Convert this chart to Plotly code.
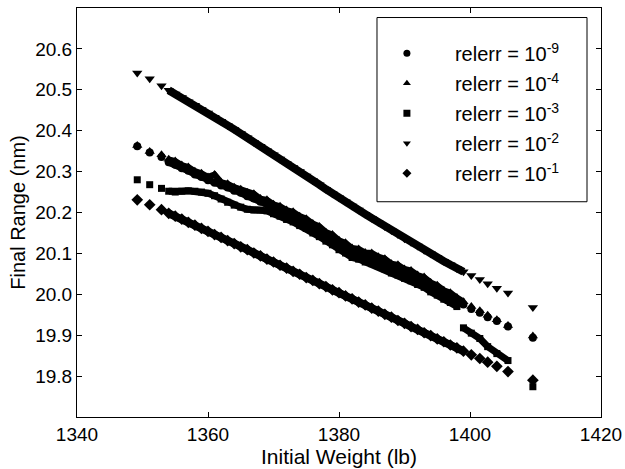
import plotly.graph_objects as go

# Initial weight grid (lb) shared by all series
weight = [1349.2, 1351.1, 1352.9,
          1354, 1355, 1356, 1357, 1358, 1359, 1360, 1361, 1362, 1363, 1364,
          1365, 1366, 1367, 1368, 1369, 1370, 1371, 1372, 1373, 1374, 1375,
          1376, 1377, 1378, 1379, 1380, 1381, 1382, 1383, 1384, 1385, 1386,
          1387, 1388, 1389, 1390, 1391, 1392, 1393, 1394, 1395, 1396, 1397,
          1398, 1399,
          1400.2, 1401.5, 1402.7, 1404.1, 1405.8, 1409.6]

range_e9 = [20.362, 20.347, 20.336,
            20.323, 20.317, 20.308, 20.302, 20.293, 20.287, 20.279, 20.273, 20.266, 20.261, 20.253,
            20.248, 20.240, 20.234, 20.226, 20.220, 20.211, 20.205, 20.197, 20.191, 20.182, 20.174,
            20.163, 20.155, 20.143, 20.135, 20.123, 20.115, 20.104, 20.100, 20.093, 20.090, 20.083,
            20.076, 20.066, 20.061, 20.053, 20.047, 20.038, 20.031, 20.020, 20.012, 20.001, 19.994,
            19.983, 19.975,
            19.964, 19.955, 19.944, 19.935, 19.921, 19.894]

range_e4 = [20.364, 20.349, 20.341,
            20.330, 20.326, 20.316, 20.311, 20.301, 20.296, 20.287, 20.293, 20.274, 20.270, 20.262,
            20.257, 20.249, 20.246, 20.234, 20.231, 20.220, 20.215, 20.206, 20.202, 20.191, 20.185,
            20.173, 20.166, 20.152, 20.146, 20.132, 20.126, 20.113, 20.111, 20.102, 20.101, 20.092,
            20.087, 20.075, 20.072, 20.062, 20.058, 20.047, 20.042, 20.029, 20.022, 20.010, 20.004,
            19.992, 19.982,
            19.970, 19.960, 19.949, 19.938, 19.924, 19.898]

range_e3 = [20.280, 20.268, 20.259,
            20.252, 20.250, 20.252, 20.253, 20.252, 20.250, 20.247, 20.241, 20.233, 20.225, 20.218,
            20.213, 20.208, 20.206, 20.206, 20.204, 20.197, 20.191, 20.183, 20.177, 20.168, 20.161,
            20.150, 20.141, 20.130, 20.121, 20.109, 20.101, 20.090, 20.086, 20.079, 20.075, 20.069,
            20.062, 20.052, 20.047, 20.039, 20.033, 20.024, 20.017, 20.006, 19.998, 19.988, 19.980,
            19.970, 19.918,
            19.905, 19.892, 19.872, 19.855, 19.838, 19.774]

range_e2 = [20.541, 20.527, 20.510,
            20.499, 20.490, 20.481, 20.471, 20.462, 20.452, 20.443, 20.433, 20.423, 20.413, 20.403,
            20.393, 20.383, 20.372, 20.362, 20.351, 20.341, 20.331, 20.320, 20.310, 20.300, 20.289,
            20.278, 20.268, 20.257, 20.246, 20.236, 20.226, 20.216, 20.206, 20.196, 20.186, 20.176,
            20.166, 20.156, 20.146, 20.136, 20.127, 20.118, 20.108, 20.099, 20.090, 20.081, 20.072,
            20.063, 20.055,
            20.046, 20.036, 20.026, 20.015, 20.003, 19.968]

range_e1 = [20.231, 20.219, 20.207,
            20.198, 20.191, 20.184, 20.176, 20.169, 20.161, 20.154, 20.146, 20.139, 20.131, 20.124,
            20.116, 20.109, 20.101, 20.094, 20.086, 20.079, 20.071, 20.064, 20.056, 20.049, 20.041,
            20.034, 20.026, 20.019, 20.011, 20.004, 19.996, 19.989, 19.981, 19.974, 19.966, 19.959,
            19.951, 19.944, 19.936, 19.929, 19.921, 19.914, 19.906, 19.899, 19.891, 19.884, 19.876,
            19.869, 19.861,
            19.852, 19.843, 19.834, 19.824, 19.811, 19.790]

legend_labels = ["relerr = 10<sup>-9</sup>", "relerr = 10<sup>-4</sup>",
                 "relerr = 10<sup>-3</sup>", "relerr = 10<sup>-2</sup>",
                 "relerr = 10<sup>-1</sup>"]

x_ticks = [1340, 1360, 1380, 1400, 1420]
y_ticks = [19.8, 19.9, 20.0, 20.1, 20.2, 20.3, 20.4, 20.5, 20.6]

series = [range_e9, range_e4, range_e3, range_e2, range_e1]
symbols = ["circle", "triangle-up", "square", "triangle-down", "diamond"]
msizes = [8, 9, 7, 9, 9]
lwidths = [7, 6, 7, 8, 8]
# dense segments (index ranges) drawn as continuous bands
bands = [[(3, 49)], [(3, 49)], [(3, 48), (48, 54)], [(3, 49)], [(3, 49)]]

FONT = "Liberation Sans, Arial, Helvetica, sans-serif"
fig = go.Figure()

for ys, sym, ms, lw, segs in zip(series, symbols, msizes, lwidths, bands):
    for a, b in segs:
        fig.add_trace(go.Scatter(x=weight[a:b], y=ys[a:b], mode="lines",
                                 line=dict(color="black", width=lw),
                                 showlegend=False, hoverinfo="skip"))
    fig.add_trace(go.Scatter(x=weight, y=ys, mode="markers",
                             marker=dict(symbol=sym, size=ms, color="black"),
                             showlegend=False))

for i, (lab, sym) in enumerate(zip(legend_labels, symbols)):
    fig.add_trace(go.Scatter(x=[None], y=[None], mode="markers", name=lab,
                             legendgroup=f"g{i}",
                             marker=dict(symbol=sym, size=7, color="black")))

fig.add_shape(type="rect", xref="paper", yref="paper",
              x0=0.5725, x1=0.9733, y0=0.5263, y1=0.9767,
              line=dict(color="black", width=1), fillcolor="white", layer="above")

axis_common = dict(showline=True, linecolor="black", linewidth=1, mirror="ticks",
                   ticks="inside", ticklen=5, tickcolor="black", showgrid=False,
                   zeroline=False, automargin=False,
                   tickfont=dict(family=FONT, size=19, color="black"))

fig.update_layout(
    width=625, height=469, autosize=False,
    margin=dict(l=77, r=24, t=8, b=52),
    paper_bgcolor="white", plot_bgcolor="white",
    font=dict(family=FONT, color="black"),
    xaxis=dict(range=[1340, 1420], tickvals=x_ticks,
               ticktext=[str(v) for v in x_ticks],
               title=dict(text="Initial Weight (lb)", font=dict(size=21), standoff=0),
               **axis_common),
    yaxis=dict(range=[19.7, 20.7], tickvals=y_ticks,
               ticktext=[f"{v:.1f}" for v in y_ticks],
               title=dict(text="Final Range (nm)", font=dict(size=20), standoff=4),
               **axis_common),
    legend=dict(x=0.538, y=0.937, xanchor="left", yanchor="top",
                itemwidth=86, tracegroupgap=1,
                bgcolor="rgba(0,0,0,0)", borderwidth=0,
                font=dict(family=FONT, size=20, color="black")),
    showlegend=True,
)

fig.write_html("out.html", config={"displayModeBar": False},
               post_script="document.body.style.margin='0';document.body.style.padding='0';")
